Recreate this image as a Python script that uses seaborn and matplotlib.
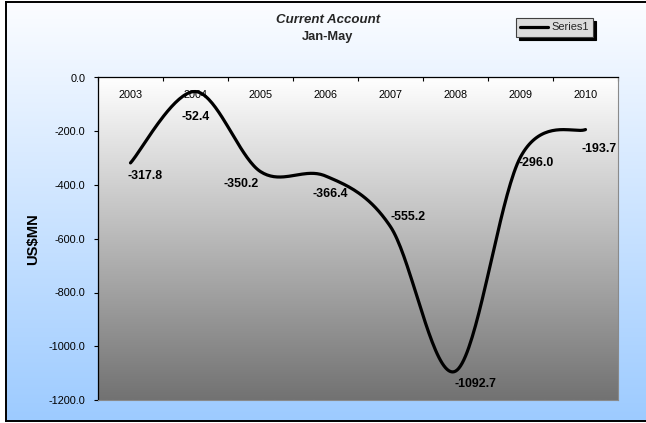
import numpy as np
import pandas as pd
import matplotlib
matplotlib.use("Agg")
import matplotlib.pyplot as plt
import seaborn as sns

# Current account balance, January-May, US$ millions
years = ["2003", "2004", "2005", "2006", "2007", "2008", "2009", "2010"]
balance = [-317.8, -52.4, -350.2, -366.4, -555.2, -1092.7, -296.0, -193.7]
y_ticks = [0, -200, -400, -600, -800, -1000, -1200]

# hand-placed data-label offsets (pixels, relative to each point)
label_offsets = [(15, -13), (0, -25), (-19, -12), (5, -18),
                 (18, 10), (20, -13), (16, -6), (14, -19)]

sns.set_theme(style="white")
plt.rcParams["font.family"] = ["Liberation Sans", "DejaVu Sans"]
plt.rcParams["axes.unicode_minus"] = False

W, H = 646, 423
fig = plt.figure(figsize=(W / 100, H / 100), dpi=100)
fig.patch.set_facecolor("white")


def smooth_bezier(xv, yv, steps=40):
    """Cardinal (Catmull-Rom) Bezier smoothing through every point."""
    p = np.column_stack([xv, yv]).astype(float)
    ext = np.vstack([p[0], p, p[-1]])
    out = []
    t = np.linspace(0, 1, steps)[:, None]
    for i in range(len(p) - 1):
        p0, p1 = ext[i + 1], ext[i + 2]
        c1 = p0 + (ext[i + 2] - ext[i]) / 6.0
        c2 = p1 - (ext[i + 3] - ext[i + 1]) / 6.0
        seg = ((1 - t) ** 3) * p0 + 3 * ((1 - t) ** 2) * t * c1 \
            + 3 * (1 - t) * t ** 2 * c2 + t ** 3 * p1
        out.append(seg if i == 0 else seg[1:])
    out = np.vstack(out)
    return out[:, 0], out[:, 1]


# chart-area background: white to light blue, framed in black
bg = fig.add_axes([6 / W, 2 / H, 1.0, 419 / H], zorder=-5)
grad = np.linspace(0, 1, 256)[:, None]
top_c = np.array([252, 253, 255]) / 255
bot_c = np.array([157, 203, 255]) / 255
bg.imshow(top_c + (bot_c - top_c) * grad[:, :, None], aspect="auto",
          extent=(0, 1, 0, 1), origin="upper")
bg.set_xticks([])
bg.set_yticks([])
for s in bg.spines.values():
    s.set_color("black")
    s.set_linewidth(1.4)

# plot area
ax = fig.add_axes([98 / W, 1 - 400 / H, 520 / W, 322.5 / H])
ax.patch.set_visible(False)
pa_top = np.array([255, 255, 255]) / 255
pa_bot = np.array([114, 114, 114]) / 255
ax.imshow(pa_top + (pa_bot - pa_top) * grad[:, :, None], aspect="auto",
          extent=(0, 1, 0, 1), origin="upper", transform=ax.transAxes,
          zorder=0)

xpos = np.arange(len(years))
sx, sy = smooth_bezier(xpos, balance)
curve = pd.DataFrame({"x": sx, "y": sy})
sns.lineplot(data=curve, x="x", y="y", ax=ax, color="black", linewidth=2.3,
             estimator=None, sort=False, label="Series1", zorder=3)

ax.set_xlim(-0.5, len(years) - 0.5)
ax.set_ylim(-1200, 0)

# value labels
for xi, v, (dx, dy) in zip(xpos, balance, label_offsets):
    ax.annotate(f"{v:.1f}", (xi, v), xytext=(dx, dy),
                textcoords="offset pixels", ha="center", va="center",
                fontsize=8.9, fontweight="bold", color="black", zorder=4)

# y axis
ax.set_yticks(y_ticks)
ax.set_yticklabels([f"{t:.1f}" for t in y_ticks])
ax.tick_params(axis="y", which="major", left=True, direction="out",
               length=3, width=0.8, color="black", labelsize=7.8, pad=6,
               labelcolor="black")
ax.set_ylabel("US$MN", fontsize=10.6, fontweight="bold", color="black")
ax.yaxis.set_label_coords(-0.111, 0.5)

# x axis sits at zero (top of the plot area)
ax.set_xticks(xpos)
ax.set_xticklabels(years)
ax.set_xticks(np.arange(-0.5, len(years)), minor=True)
ax.tick_params(axis="x", which="major", bottom=False, top=True,
               labelbottom=False, labeltop=True, length=0, pad=-16.5,
               labelsize=7.8, labelcolor="black")
ax.tick_params(axis="x", which="minor", bottom=False, top=True,
               labelbottom=False, labeltop=False, direction="in",
               length=3, width=0.8, color="black")
ax.set_xlabel("")

ax.spines["left"].set_color("black")
ax.spines["top"].set_color("black")
ax.spines["left"].set_linewidth(0.9)
ax.spines["top"].set_linewidth(0.9)
ax.spines["right"].set_color("#8a8a8a")
ax.spines["bottom"].set_color("#8a8a8a")
ax.spines["right"].set_linewidth(0.8)
ax.spines["bottom"].set_linewidth(0.8)
ax.grid(False)

# titles
fig.text(328 / W, 1 - 20 / H, "Current Account", ha="center", va="center",
         fontsize=9.5, fontweight="bold", fontstyle="italic")
fig.text(328 / W, 1 - 37 / H, "Jan-May", ha="center", va="center",
         fontsize=9.3, fontweight="bold")

# legend
leg = ax.legend(loc="upper left", bbox_to_anchor=(516 / W, 1 - 18 / H),
                bbox_transform=fig.transFigure, frameon=True, fancybox=False,
                shadow={"color": "black", "alpha": 1}, fontsize=7.9,
                borderpad=0.4, handlelength=2.5, handletextpad=0.3,
                borderaxespad=0)
leg.get_frame().set_facecolor("#dcdcdc")
leg.get_frame().set_edgecolor("#404040")
leg.get_frame().set_linewidth(0.8)

fig.savefig("out.png", dpi=100)
